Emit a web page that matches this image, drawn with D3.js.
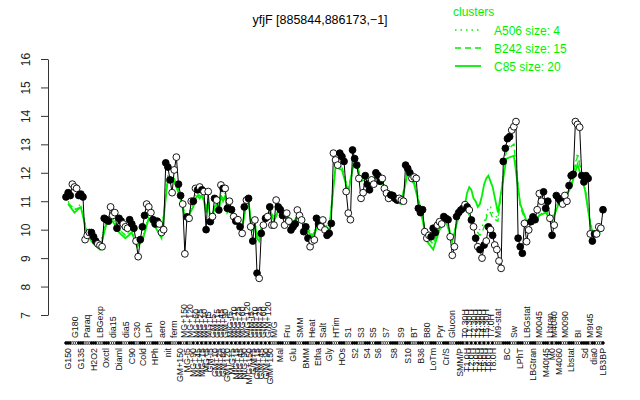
<!DOCTYPE html>
<html><head><meta charset="utf-8">
<script src="https://cdn.jsdelivr.net/npm/d3@7"></script>
<style>body{margin:0;background:#fff}svg{font-family:"Liberation Sans",Arial,sans-serif;display:block}</style>
</head><body><svg id="c" width="640" height="400"></svg>
<script>
const titleText = "yfjF [885844,886173,\u22121]";
const conditions = ["G150","G180","G135","Paraq","H2O2","LBGexp","Oxctl","dia15","Diaml","dia5","C90","C30","Cold","LPh","HPh","aero","nit","ferm","GM+150","MG+150","MG-t5","MG+120",
 "MG+90","MG+60","MG+45","MG+25","MG+15","MG+10","MG+5","MG+t5","GM-t5","GM+5","GM+10","GM+15","GM+25","GM+45","GM+60","GM+90","GM+120","M/G-t5","M/G+5","M/G+10","M/G+15","M/G+25","M/G+45","M/G+60","M/G+90","M/G+120","M/G+150","G/M-t5","G/M+5","G/M+10","G/M+15","G/M+25","G/M+45","G/M+60","G/M+90","G/M+120","G/M+150",
 "M/G","Mal","Fru","Glu","SMM","BMM","Heat","Etha","Salt","Gly",
 "HTim","HOs","S1","S2","S3","S4","S5","S6","S7","S8","S9","S10","BT","B36","B80","LoTm","Pyr","Cr/S","Glucon","SMM/P",
 "T0.30H","T1.0H","T1.30H","T2.0H","T2.30H","T3.0H","T3.30H","T4.0H","T4.30H","T5.0H","T5.30H","T6.0H","T7.0H","T8.0H",
 "M9-stat","BC","Sw","LPhT","LBGstat","LBGtran","M0045","M40t45","Lbtran","M0","M4040","M4060","M0090","Lbstat","BI","Sd","M9t45","dia0","M9","LB3BP"];
const replicates = [[11.15,11.3,11.2],[11.6,11.5,11.45],[11.2,11.25,11.15],[9.65,9.8,9.9],[9.9,9.75,9.6],[9.5,9.45,9.4],[10.4,10.35,10.3],[10.8,10.5,10.6],[10.05,10.4,10.3],[10.2,10.1,10.05],[10.35,10.2,10.05],[9.6,9.05],[9.65,10.1,10.5],[10.9,10.8,10.6],[10.35,10.2,10.3],[10.2,9.9,10.0],[12.35,12.2,11.75],[11.3,12.1,12.55],[11.6,11.2],[10.9,9.15],[10.45],[10.4,11.0],
 [11.0],[11.45],[11.4],[11.5],[11.4],[11.34],[10.0],[11.34],[10.28],[10.46],[11.1],[11.04],[10.69],[11.57],[11.45],[11.45],[10.75],[11.0],[10.7],[10.46],[10.3],[10.35],[10.1],[9.87],[10.8],[11.04],[11.1],[10.1],[9.6],[10.34],[8.47],[8.29],[9.87],[10.16],[10.4],[10.46],[10.8],
 [10.16,10.16,11.04],[10.8,10.7,10.5],[10.16,10.58,10.3],[9.99,10.1,10.2],[10.69,10.5,10.34],[9.93,10.1,9.7],[9.4,9.6,9.64],[10.4,10.2],[10.1,10.34,9.99],[9.8,9.87,10.22],
 [12.69,12.45,12.27],[12.69,12.57,12.4],[11.34,10.58,10.35],[12.8,12.5,12.27],[11.8,11.1,11.3],[11.9,11.6,11.4],[11.75,11.6],[12.0,11.9,11.7],[11.8,11.45,11.28,11.1],[11.22,11.2,11.1,11.04],[11.1,11.04,11.0],[12.27,12.15,12.0],[11.8,11.85,11.8],[10.75,10.6,10.7],[9.93,9.7,9.8],[9.75,10.05,9.9],[10.16,10.28,10.2],[10.46,10.4,10.35],[9.75,9.1,9.4],[10.46,10.6,10.69,10.75],
 [10.88],[10.8],[10.69],[10.34],[10.1],[9.7],[9.4],[9.3],[9.0],[9.46],[9.6],[10.1],[10.0],[9.8],
 [9.46,9.3,8.9,8.64],[12.4,12.86,13.2,13.27],[13.5,13.62,13.8],[9.7,9.4,9.17],[10.22,9.58,9.99],[10.28,10.45,10.35],[10.7,11.27,11.0],[11.33,10.75,11.0],[10.4],[9.8],[10.16],[11.2,11.1,11.0],[10.9,11.2,11.0],[11.55,11.9,11.95],[13.8,13.7,13.6],[11.9,11.68,11.9,11.8],[9.85],[9.6,9.85],[9.85,10.1,10.05],[10.7]];
const clusterC85 = [10.9,10.6,10.8,9.8,9.5,9.3,10.2,10.3,9.9,9.7,9.9,9.4,9.6,10.4,10.1,9.7,11.8,11.7,11.2,10.6,10.3,10.6,
 10.8,11.1,11.2,11.1,11.2,11.0,10.6,11.0,10.3,10.4,10.8,10.9,10.6,11.2,11.0,11.2,10.6,10.7,10.6,10.4,10.3,10.2,10.1,10.0,10.5,10.9,11.0,10.3,10.0,10.2,9.7,9.6,10.0,10.2,10.3,10.5,10.7,
 10.3,10.8,10.4,10.2,10.5,10.1,9.7,10.1,10.1,10.0,
 12.2,12.1,11.3,12.5,11.7,11.8,11.7,11.8,11.5,11.0,10.9,12.0,11.6,10.7,9.6,9.3,10.0,10.3,9.6,10.6,
 10.9,11.3,11.5,11.4,11.1,11.0,10.8,10.9,11.2,11.6,11.8,11.9,11.7,11.5,
 10.6,12.5,12.6,10.9,10.3,10.2,10.5,10.6,10.4,10.3,10.5,10.9,11.1,11.5,12.3,11.4,10.2,9.8,9.9,10.0];
const clusterB242 = [10.95,10.7,10.8,9.9,9.6,9.4,10.2,10.4,10.0,9.8,9.9,9.5,9.7,10.4,10.2,9.8,11.9,11.8,11.3,10.7,10.4,10.6,
 10.9,11.1,11.2,11.2,11.2,11.1,10.7,11.0,10.4,10.5,10.8,10.9,10.7,11.2,11.1,11.2,10.7,10.7,10.6,10.5,10.4,10.3,10.2,10.1,10.5,10.9,11.0,10.4,10.1,10.2,9.8,9.7,10.0,10.2,10.4,10.5,10.7,
 10.4,10.8,10.5,10.3,10.5,10.2,9.8,10.1,10.2,10.0,
 12.3,12.2,11.4,12.6,11.8,11.8,11.8,11.9,11.5,11.1,11.0,12.1,11.7,10.8,9.7,9.5,10.1,10.3,9.7,10.6,
 10.7,10.6,10.5,10.3,10.2,10.0,9.9,9.8,9.9,10.1,10.4,10.6,10.6,10.4,
 10.3,12.8,13.0,10.8,10.2,10.2,10.5,10.7,10.4,10.3,10.5,10.9,11.2,11.6,12.6,11.5,10.2,9.8,9.9,10.1];
const clusterA506 = [11.0,10.7,10.9,9.9,9.6,9.5,10.3,10.4,10.0,9.8,10.0,9.5,9.7,10.5,10.2,9.9,11.9,11.8,11.3,10.7,10.4,10.7,
 10.9,11.2,11.3,11.2,11.3,11.1,10.7,11.1,10.4,10.5,10.9,11.0,10.7,11.3,11.1,11.3,10.7,10.8,10.7,10.5,10.4,10.3,10.2,10.1,10.6,11.0,11.1,10.4,10.1,10.3,9.8,9.7,10.1,10.3,10.4,10.6,10.8,
 10.4,10.9,10.5,10.3,10.6,10.2,9.8,10.2,10.2,10.1,
 12.3,12.2,11.4,12.6,11.8,11.9,11.8,11.9,11.6,11.1,11.0,12.1,11.7,10.8,9.7,9.5,10.1,10.4,9.7,10.7,
 10.8,10.7,10.6,10.4,10.3,10.1,10.0,10.0,10.1,10.3,10.5,10.8,10.8,10.6,
 10.4,12.9,13.0,10.9,10.3,10.3,10.6,10.7,10.5,10.4,10.6,11.0,11.2,11.6,12.7,11.5,10.3,9.9,10.0,10.1];
const yTicks = [7,8,9,10,11,12,13,14,15,16];
const legendTitle = "clusters";
const legendLabels = ["A506 size: 4","B242 size: 15","C85 size: 20"];
const legendDash = ["1.5,4","6,4",null];

const svg = d3.select("#c");
const green = "#00f000";

const samples = [];
conditions.forEach((c, i) => replicates[i].forEach(v => samples.push({c: i, v: v})));
const x = d3.scaleLinear().domain([0, samples.length - 1]).range([66, 603]);
const y = d3.scaleLinear().domain([7, 16]).range([315, 59]);
const centers = conditions.map((c, i) => d3.mean(samples.map((s, k) => s.c === i ? k : null).filter(k => k !== null)));

// title
svg.append("text").attr("x", 320).attr("y", 24).attr("text-anchor", "middle")
  .attr("font-size", 12.5).text(titleText);

// y axis
const ax = svg.append("g").attr("transform", "translate(48,0)")
  .call(d3.axisLeft(y).tickValues(yTicks).tickSize(7).tickSizeOuter(0));
ax.select(".domain").attr("stroke", "#333");
ax.selectAll(".tick line").attr("stroke", "#333");
ax.selectAll(".tick text").attr("x", 0).attr("dy", "0.35em").attr("text-anchor", "middle")
  .attr("transform", "translate(-22,0) rotate(-90)").attr("font-size", 12).attr("fill", "#222")
  .attr("font-family", "Liberation Sans, Arial, sans-serif");

// green cluster lines
const gline = d3.line().x((d, i) => x(centers[i])).y(d => y(d));
[[clusterA506, legendDash[0], 1.3], [clusterB242, legendDash[1], 1.3], [clusterC85, null, 1.8]].forEach(([arr, dash, w]) => {
  svg.append("path").attr("d", gline(arr)).attr("fill", "none").attr("stroke", green)
    .attr("stroke-width", w).attr("stroke-dasharray", dash);
});

// black data line
svg.append("path").attr("d", d3.line().x((d, i) => x(i)).y(d => y(d.v))(samples))
  .attr("fill", "none").attr("stroke", "#000").attr("stroke-width", 1);

// points
svg.append("g").selectAll("circle").data(samples).join("circle")
  .attr("cx", (d, i) => x(i)).attr("cy", d => y(d.v)).attr("r", 3.4)
  .attr("fill", d => d.c % 2 === 0 ? "#000" : "#fff").attr("stroke", "#000").attr("stroke-width", 0.9);

// rug markers under plot
svg.append("g").selectAll("circle").data(samples).join("circle")
  .attr("cx", (d, i) => x(i)).attr("cy", 343).attr("r", 1.4)
  .attr("fill", d => d.c % 2 === 0 ? "#000" : "#fff").attr("stroke", "#000").attr("stroke-width", 0.7);

// condition labels
svg.append("g").selectAll("text").data(conditions).join("text")
  .attr("transform", (d, i) => `translate(${x(centers[i])},${i % 2 === 0 ? 348 : 338}) rotate(-90)`)
  .attr("text-anchor", (d, i) => i % 2 === 0 ? "end" : "start")
  .attr("dy", "0.35em").attr("font-size", 8.8).attr("fill", "#111").text(d => d);

// legend
const lg = svg.append("g");
lg.append("text").attr("x", 453).attr("y", 16).attr("fill", green).attr("font-size", 12).text(legendTitle);
legendLabels.forEach((t, i) => {
  const yy = 30 + i * 18;
  lg.append("line").attr("x1", 455).attr("x2", 481).attr("y1", yy).attr("y2", yy)
    .attr("stroke", green).attr("stroke-width", i === 2 ? 1.8 : 1.3).attr("stroke-dasharray", legendDash[i]);
  lg.append("text").attr("x", 494).attr("y", yy + 4.5).attr("fill", green).attr("font-size", 12).text(t);
});
</script></body></html>
